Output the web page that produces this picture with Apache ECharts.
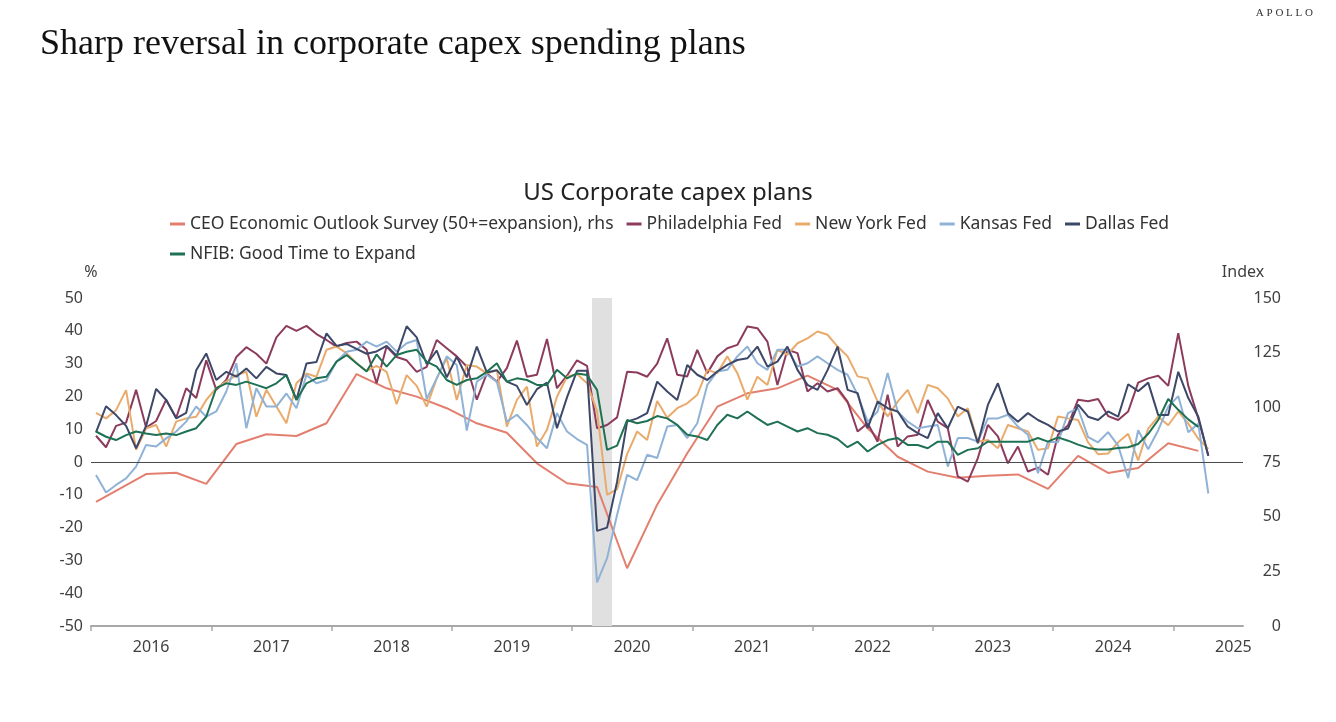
<!DOCTYPE html>
<html>
<head>
<meta charset="utf-8">
<title>US Corporate capex plans</title>
<script src="https://cdn.jsdelivr.net/npm/echarts@6.0.0/dist/echarts.min.js"></script>
<style>
  html, body { margin: 0; padding: 0; background: #fff; }
  #chart { width: 1336px; height: 722px; }
</style>
</head>
<body>
<div id="chart"></div>
<script>
// monthly readings from Jan 2016, % (lhs)
const firstYear = 2016;

const philly = [
  8, 4.5, 11, 12, 22, 10.5, 12.5, 19, 13.5, 22.5, 19.5, 31,
  22, 25, 32, 35, 33, 30, 38, 41.5, 40, 41.5, 39, 37.2,
  35.2, 36.3, 36.7, 34.2, 24, 35.2, 32, 31, 27.5, 29, 37.2, 34.7,
  32.2, 29.1, 19, 27, 24.5, 28.6, 37, 26, 26.6, 37.5, 22.5, 26.3,
  31, 29.3, 10.3, 11.3, 13.6, 27.5, 27.3, 26, 30, 37.7, 26.6, 26.1,
  34.2, 27.1, 32.2, 34.7, 35.7, 41.3, 40.8, 36.7, 23.5, 34.2, 33.2, 21.5,
  24, 21.5, 22.5, 18.4, 9.3, 11.8, 6.2, 20.5, 4.7, 7.8, 8.3, 18.9,
  12.3, 10.3, -4.4, -6, 1.2, 11.3, 7.8, -0.4, 4.7, -2.9, -1.7, -3.9,
  8.3, 11.2, 19, 18.5, 19.2, 14, 12.8, 15.4, 24.2, 25.5, 26.3, 23.2,
  39.3, 23.2, 13.3, 1.9
];

const newYork = [
  15, 13.3, 15.8, 21.9, 3.7, 10.3, 11.3, 4.7, 12.3, 13.3, 13.8, 18.9,
  22.5, 24.5, 26.5, 27.5, 13.8, 22, 16.9, 11.8, 24, 27, 26, 34.2,
  35.2, 33.2, 30.1, 27.8, 29.3, 27.5, 17.6, 26.5, 23.2, 16.9, 25.5, 31.6,
  18.9, 29.6, 29.1, 27, 28, 10.8, 18.9, 23, 4.7, 9.8, 19.9, 26,
  26.8, 24, 15.5, -10, -8.3, 2.4, 9.3, 6.7, 18.6, 13.5, 16.4, 17.9,
  20.5, 28.1, 27.1, 32.2, 27.1, 19, 26, 23.5, 34.2, 32.7, 36.2, 37.7,
  39.8, 38.8, 35.2, 32.2, 26.1, 25.5, 18.4, 13.9, 18.4, 22, 14.9, 23.5,
  22.5, 19.4, 13.9, 16.4, 6.2, 6.7, 4.2, 11.3, 10.3, 9.3, 3.7, 4.2,
  13.9, 13.3, 12.8, 6, 2.4, 2.6, 6, 8.6, 0.5, 10.2, 13.8, 11.2,
  15.4, 11.7, 7.1, 4
];

const kansas = [
  -4, -9.3, -7, -5, -1.4, 5.2, 4.7, 7.2, 9.3, 12.3, 16.9, 13.8,
  15.4, 21.5, 30.1, 10.3, 22.5, 16.9, 16.9, 20.9, 16.4, 26.5, 24, 25,
  30.6, 33.6, 34.2, 36.7, 35.2, 36.7, 33.7, 36.2, 37.2, 19.2, 25.5, 32.2,
  29.6, 9.6, 24.5, 26.6, 24.5, 12.3, 14.4, 11.3, 7.3, 4.2, 14.9, 9.3,
  7, 5.2, -36.7, -29.3, -16.1, -3.9, -5.5, 2.2, 1.2, 10.8, 11.3, 7.3,
  11.8, 23.5, 27.6, 28.1, 32.2, 35.2, 30.1, 28.1, 34.2, 34.2, 29.1, 30.1,
  32.2, 30.1, 28.1, 26.6, 20.5, 12.3, 15.4, 27.1, 15.4, 12.3, 10.3, 10.8,
  11.3, -1.4, 7.3, 7.3, 6.2, 13.3, 13.3, 14.4, 10.8, 8.3, -3.4, 6.2,
  6, 14.9, 16.4, 7.6, 6, 9.1, 5, -4.9, 9.7, 3.9, 9.7, 16.9,
  20.1, 9.1, 11.7, -9.6
];

const dallas = [
  9, 17, 14.3, 11, 4.2, 11, 22.3, 18.9, 13.3, 15, 28, 33.1,
  25, 27.5, 26, 28.5, 25.5, 29, 27, 26.5, 19, 30, 30.5, 39.2,
  35.4, 36, 34.5, 33, 33.7, 35.4, 32.4, 41.4, 38, 29.8, 34, 25.8,
  32.1, 25.8, 35.2, 27.3, 28, 24.5, 23.2, 17.4, 22.2, 24.2, 10.3, 19.7,
  27.8, 27.8, -21, -20, -6, 12.3, 13.3, 14.9, 24.5, 21.5, 18.9, 29.6,
  26.6, 25, 27.6, 29.6, 31.1, 31.6, 35.2, 29.1, 30.6, 35.2, 28.1, 23.5,
  22, 28, 35.2, 22, 21, 10.3, 18.4, 16.4, 15.4, 10.8, 8.8, 7.3,
  14.9, 10.3, 16.9, 15.4, 5.7, 17.4, 24, 14.9, 12.3, 14.9, 12.8, 11.3,
  9.3, 10.2, 17.5, 13.8, 12.8, 15.4, 13.8, 23.7, 21.6, 24.2, 14.3, 14.3,
  27.5, 19.5, 13.8, 1.9
];

const nfib = [
  9.3, 7.7, 6.7, 8.2, 9.3, 8.7, 8.2, 8.7, 8.2, 9.3, 10.3, 13.8,
  22.5, 24, 23.5, 24.5, 23.5, 22.5, 24, 26.5, 18.9, 24, 25.5, 26,
  30.6, 32.6, 30.1, 27.6, 32.8, 29.1, 32.6, 33.6, 34.2, 30.6, 29.1, 25,
  23.5, 25, 25.5, 27.5, 30.1, 24.5, 25.5, 25, 23.5, 23.5, 28.1, 25.5,
  27, 26.5, 22, 3.7, 5, 12.8, 11.8, 12.5, 14, 13.3, 11.3, 8.3,
  7.8, 6.7, 11.3, 14.4, 13.3, 15.4, 13.3, 11.3, 12.3, 10.8, 9.3, 10.3,
  8.8, 8.3, 7, 4.5, 6.2, 3.2, 5.2, 6.7, 7.3, 5.2, 5.2, 4.2,
  6.2, 6.2, 2.2, 3.7, 4.2, 6.2, 6.2, 6.2, 6.2, 6.2, 7.3, 6.2,
  7.5, 6.5, 5.3, 4.3, 3.8, 3.8, 4.3, 4.5, 5.5, 8.6, 12.8, 19.2,
  15.9, 13, 10.7
];

// CEO survey index (rhs), quarterly
const ceoMonths = [
  '2016-01', '2016-06', '2016-09', '2016-12',
  '2017-03', '2017-06', '2017-09', '2017-12',
  '2018-03', '2018-06', '2018-09', '2018-12',
  '2019-03', '2019-06', '2019-09', '2019-12',
  '2020-03', '2020-06', '2020-09', '2020-12',
  '2021-03', '2021-06', '2021-09', '2021-12',
  '2022-03', '2022-06', '2022-09', '2022-12',
  '2023-03', '2023-06', '2023-09', '2023-12',
  '2024-03', '2024-06', '2024-09', '2024-12',
  '2025-03'
];
const ceoIndex = [
  56.8, 69.5, 70.1, 65,
  83.2, 87.7, 86.9, 92.7,
  115.2, 108.7, 104.9, 99.6,
  92.7, 88.4, 74.4, 65.3,
  63.6, 26.4, 55.5, 79,
  100.3, 106.4, 108.7, 114.5,
  108, 90.4, 77.4, 70.6,
  67.8, 68.7, 69.3, 62.7,
  77.8, 70, 72.3, 83.6,
  80.1
];

const yearTicks = [2016, 2017, 2018, 2019, 2020, 2021, 2022, 2023, 2024, 2025];
const recession = ['2020-03', '2020-05'];

const names = [
  'CEO Economic Outlook Survey (50+=expansion), rhs',
  'Philadelphia Fed',
  'New York Fed',
  'Kansas Fed',
  'Dallas Fed',
  'NFIB: Good Time to Expand'
];
const colors = ['#e27f6e', '#8c3b5c', '#e9ab6c', '#8fb2d6', '#3d4868', '#1f7154'];

// month string -> fractional year (start of month)
function monthStart(s) {
  const [y, m] = s.split('-').map(Number);
  return y + (m - 1) / 12;
}
// monthly values are plotted mid-month
function toPoints(arr) {
  return arr.map((v, i) => [firstYear + (i + 0.5) / 12, v]);
}

const font = 'Noto Sans';
const chart = echarts.init(document.getElementById('chart'));

function lineSeries(name, data, color, yAxisIndex) {
  return {
    name, type: 'line', data, yAxisIndex,
    showSymbol: false, symbol: 'none',
    lineStyle: { color, width: 2 },
    itemStyle: { color },
    emphasis: { disabled: true },
    z: 3
  };
}

const legendText = { fontFamily: font, fontSize: 17.5, color: '#333' };

const option = {
  animation: false,
  backgroundColor: '#fff',
  textStyle: { fontFamily: font },
  title: [
    {
      text: 'Sharp reversal in corporate capex spending plans',
      left: 35, top: 22,
      textStyle: { fontFamily: 'Liberation Serif', fontSize: 36, fontWeight: 'normal', color: '#111' }
    },
    {
      text: 'A P O L L O',
      right: 18, top: 3,
      textStyle: { fontFamily: 'Liberation Serif', fontSize: 11, fontWeight: 'normal', color: '#333' }
    },
    {
      text: 'US Corporate capex plans',
      left: 'center', top: 176,
      textStyle: { fontFamily: font, fontSize: 24, fontWeight: 'normal', color: '#222' }
    }
  ],
  legend: [
    {
      data: names.slice(0, 5),
      left: 165, top: 210,
      icon: 'rect', itemWidth: 15, itemHeight: 3, itemGap: 13,
      textStyle: legendText,
      selectedMode: false
    },
    {
      data: names.slice(5),
      left: 165, top: 240,
      icon: 'rect', itemWidth: 15, itemHeight: 3,
      textStyle: legendText,
      selectedMode: false
    }
  ],
  grid: { left: 91, right: 93, top: 298, bottom: 96, outerBoundsMode: 'none', containLabel: false },
  xAxis: {
    type: 'value',
    min: 2016, max: 2025.58,
    interval: 1,
    axisLine: { onZero: false, lineStyle: { color: '#a8a8a8', width: 2 } },
    axisTick: { show: true, customValues: yearTicks, length: 5, lineStyle: { color: '#a8a8a8', width: 1.5 } },
    axisLabel: {
      customValues: yearTicks.map(y => y + 0.5),
      formatter: v => String(Math.floor(v)),
      fontFamily: font, fontSize: 16, color: '#404040', margin: 13
    },
    splitLine: { show: false }
  },
  yAxis: [
    {
      type: 'value', position: 'left',
      min: -50, max: 50, interval: 10,
      name: '%', nameLocation: 'end', nameGap: 18,
      nameTextStyle: { fontFamily: font, fontSize: 16, color: '#404040', align: 'center' },
      axisLine: { show: false, onZero: false },
      axisTick: { show: false },
      splitLine: { show: false },
      axisLabel: { fontFamily: font, fontSize: 16, color: '#404040', margin: 8 }
    },
    {
      type: 'value', position: 'right',
      min: 0, max: 150, interval: 25,
      name: 'Index', nameLocation: 'end', nameGap: 18,
      nameTextStyle: { fontFamily: font, fontSize: 16, color: '#404040', align: 'center' },
      axisLine: { show: false, onZero: false },
      axisTick: { show: false },
      splitLine: { show: false },
      axisLabel: { fontFamily: font, fontSize: 16, color: '#404040', margin: 38, align: 'right' }
    }
  ],
  series: [
    {
      name: 'shade', type: 'line', data: [], yAxisIndex: 0, z: 1,
      markArea: {
        silent: true,
        itemStyle: { color: '#e0e0e0' },
        data: [[{ xAxis: monthStart(recession[0]) }, { xAxis: monthStart(recession[1]) }]]
      },
      markLine: {
        silent: true, symbol: 'none',
        label: { show: false },
        lineStyle: { color: '#4a4a4a', width: 1, type: 'solid' },
        data: [{ yAxis: 0 }]
      }
    },
    lineSeries(names[0], ceoMonths.map((m, i) => [monthStart(m) + 0.5 / 12, ceoIndex[i]]), colors[0], 1),
    lineSeries(names[1], toPoints(philly), colors[1], 0),
    lineSeries(names[2], toPoints(newYork), colors[2], 0),
    lineSeries(names[3], toPoints(kansas), colors[3], 0),
    lineSeries(names[4], toPoints(dallas), colors[4], 0),
    lineSeries(names[5], toPoints(nfib), colors[5], 0)
  ]
};

chart.setOption(option);
</script>
</body>
</html>
